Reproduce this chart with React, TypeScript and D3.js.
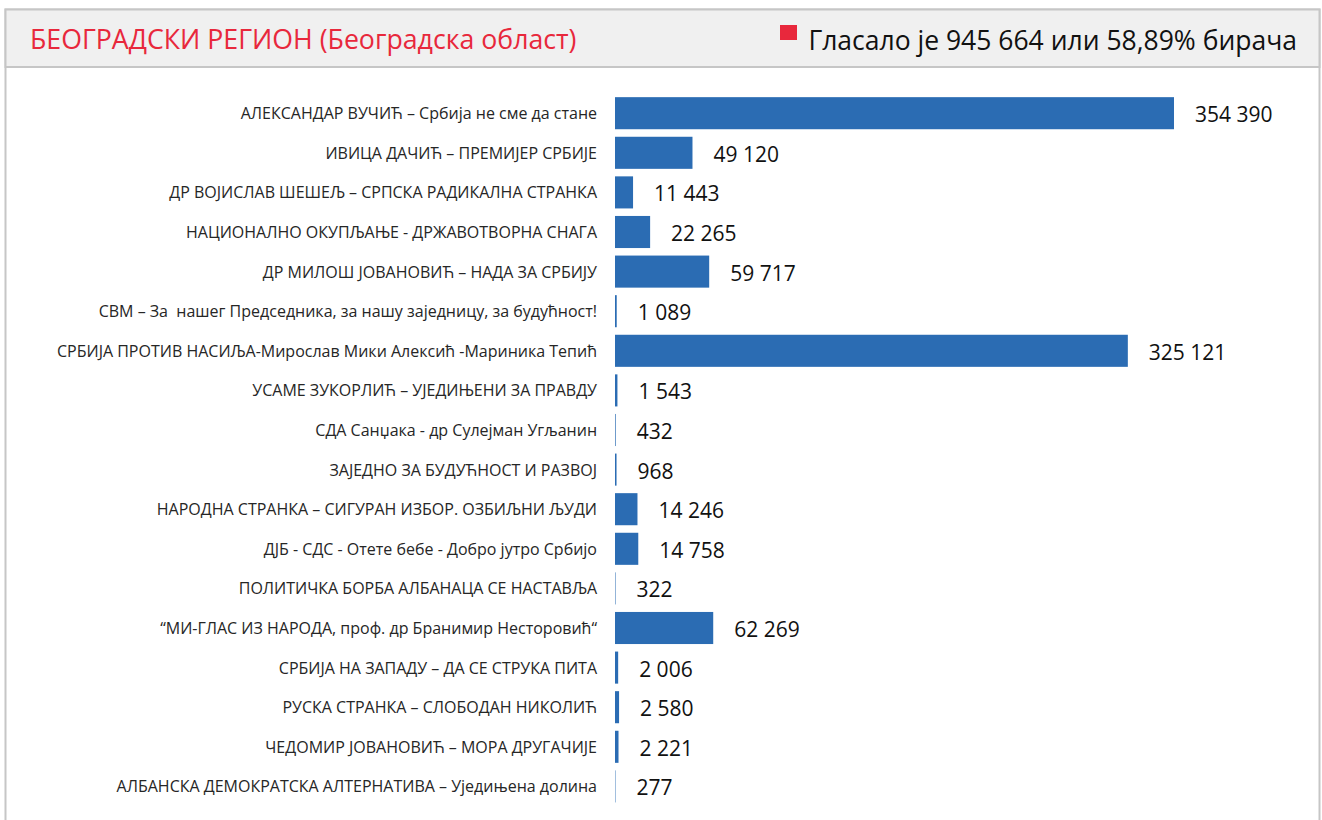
import React from "react";
import * as d3 from "d3";

const categories: string[] = [
  "АЛЕКСАНДАР ВУЧИЋ – Србија не сме да стане",
  "ИВИЦА ДАЧИЋ – ПРЕМИЈЕР СРБИЈЕ",
  "ДР ВОЈИСЛАВ ШЕШЕЉ – СРПСКА РАДИКАЛНА СТРАНКА",
  "НАЦИОНАЛНО ОКУПЉАЊЕ - ДРЖАВОТВОРНА СНАГА",
  "ДР МИЛОШ ЈОВАНОВИЋ – НАДА ЗА СРБИЈУ",
  "СВМ – За  нашег Председника, за нашу заједницу, за будућност!",
  "СРБИЈА ПРОТИВ НАСИЉА-Мирослав Мики Алексић -Мариника Тепић",
  "УСАМЕ ЗУКОРЛИЋ – УЈЕДИЊЕНИ ЗА ПРАВДУ",
  "СДА Санџака - др Сулејман Угљанин",
  "ЗАЈЕДНО ЗА БУДУЋНОСТ И РАЗВОЈ",
  "НАРОДНА СТРАНКА – СИГУРАН ИЗБОР. ОЗБИЉНИ ЉУДИ",
  "ДЈБ - СДС - Отете бебе - Добро јутро Србијо",
  "ПОЛИТИЧКА БОРБА АЛБАНАЦА СЕ НАСТАВЉА",
  "“МИ-ГЛАС ИЗ НАРОДА, проф. др Бранимир Несторовић“",
  "СРБИЈА НА ЗАПАДУ – ДА СЕ СТРУКА ПИТА",
  "РУСКА СТРАНКА – СЛОБОДАН НИКОЛИЋ",
  "ЧЕДОМИР ЈОВАНОВИЋ – МОРА ДРУГАЧИЈЕ",
  "АЛБАНСКА ДЕМОКРАТСКА АЛТЕРНАТИВА – Уједињена долина",
];

const votes: number[] = [
  354390, 49120, 11443, 22265, 59717, 1089, 325121, 1543, 432, 968, 14246,
  14758, 322, 62269, 2006, 2580, 2221, 277,
];

const titleText = "БЕОГРАДСКИ РЕГИОН (Београдска област)";
const legendText = "Гласало је 945 664 или 58,89% бирача";

const W = 1322;
const H = 820;

const fmt = (v: number) => d3.format(",")(v).replace(/,/g, " ");

export default function App() {
  const x = d3.scaleLinear().domain([0, 354390]).range([615, 1174]);
  const y = d3
    .scaleBand<string>()
    .domain(categories)
    .range([93.4, 93.4 + 18 * 39.6])
    .paddingInner(0.19)
    .paddingOuter(0.095);

  const font = "'Open Sans', sans-serif";

  return (
    <svg
      width={W}
      height={H}
      style={{ position: "absolute", left: 0, top: 0, display: "block" }}
      fontFamily={font}
    >
      <rect x={0} y={0} width={W} height={H} fill="#ffffff" />
      <rect x={5.5} y={9.5} width={1314} height={900} fill="#ffffff" stroke="#c6c6c6" strokeWidth={2} />
      <rect x={5.5} y={9.5} width={1314} height={57.5} fill="#f0f0f0" stroke="#c6c6c6" strokeWidth={2} />
      <text x={30} y={49} fill="#e8283c" fontSize={26.7}>
        {titleText}
      </text>
      <rect x={780} y={25} width={17} height={15} fill="#e8283c" />
      <text x={1297} y={50} textAnchor="end" fill="#111" fontSize={26.5}>
        {legendText}
      </text>
      {categories.map((c, i) => {
        const yy = y(c)!;
        const bh = y.bandwidth();
        const xe = x(votes[i]);
        return (
          <g key={c}>
            <text
              x={597}
              y={yy + bh / 2}
              dominantBaseline="central"
              textAnchor="end"
              fontSize={16}
              fill="#262626"
              style={{ whiteSpace: "pre" }}
            >
              {c}
            </text>
            <rect x={x(0)} y={yy} width={xe - x(0)} height={bh} fill="#2b6cb3" />
            <text
              x={xe + 21}
              y={yy + bh / 2 + 1}
              dominantBaseline="central"
              fontSize={21}
              fill="#111"
            >
              {fmt(votes[i])}
            </text>
          </g>
        );
      })}
    </svg>
  );
}
